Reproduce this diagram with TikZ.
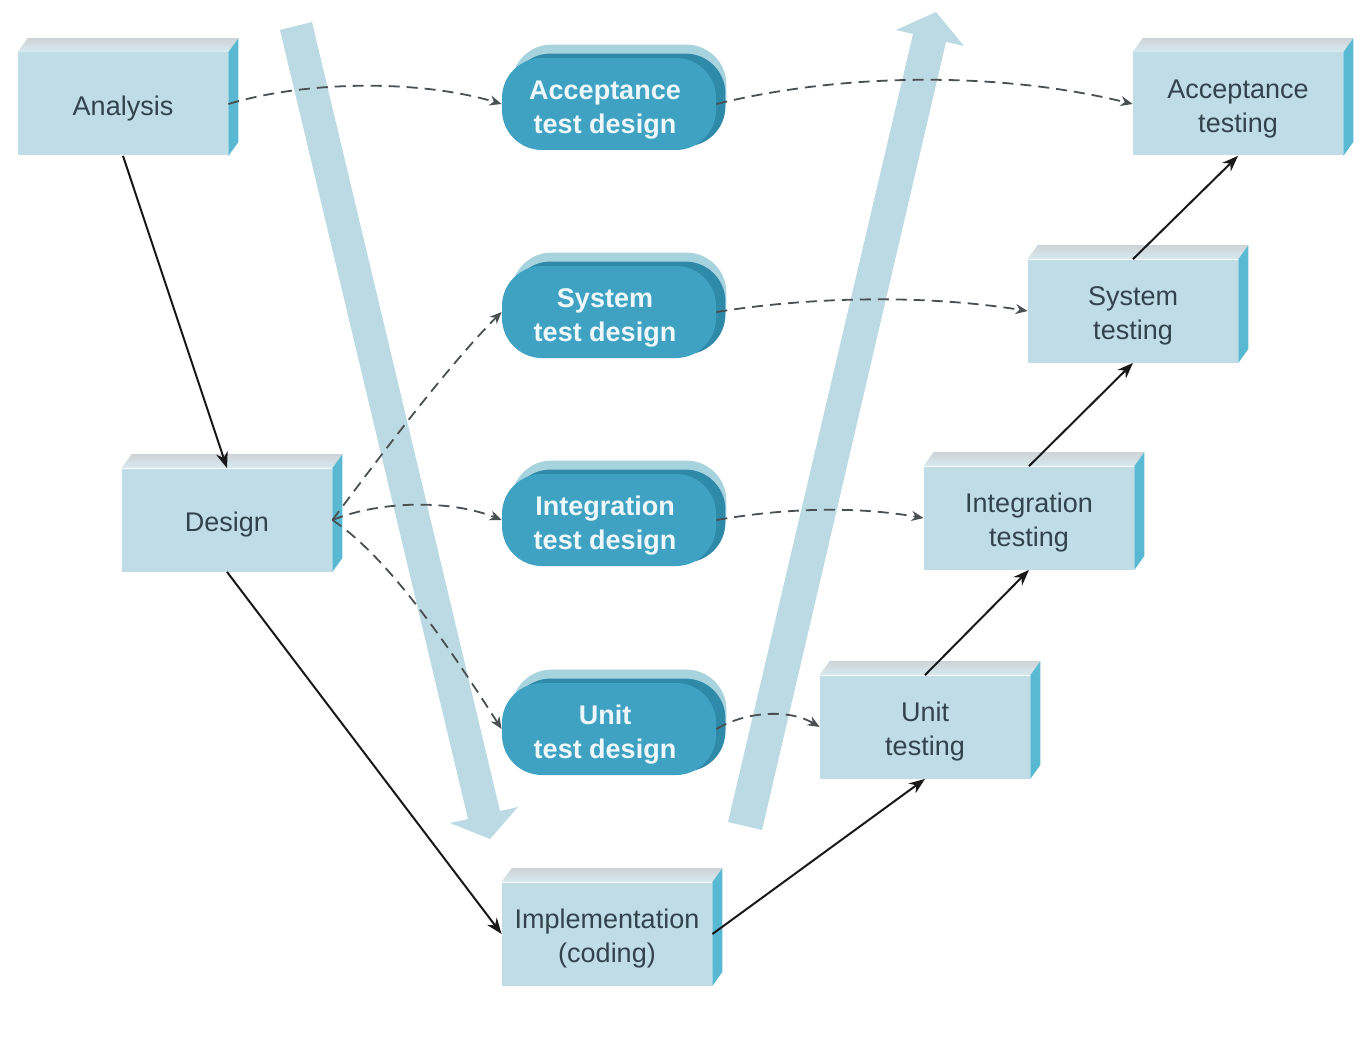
\documentclass[tikz,border=0pt]{standalone}
\usepackage{fontspec}
\setmainfont{Liberation Sans}
\usetikzlibrary{arrows.meta,calc,backgrounds}
\definecolor{boxfront}{HTML}{C0DCE6}
\definecolor{boxside}{HTML}{5AB9D2}
\definecolor{boxtop}{HTML}{D6EAF0}
\definecolor{boxshadow}{HTML}{CFD3D6}
\definecolor{boxtext}{HTML}{33434D}
\definecolor{pillfront}{HTML}{40A2C2}
\definecolor{pillside}{HTML}{2F8AAA}
\definecolor{pilltop}{HTML}{A7D3DF}
\definecolor{pilltext}{HTML}{EEF8FB}
\definecolor{arrowblue}{HTML}{BCDAE4}
\definecolor{dashgray}{HTML}{4A4F52}
\newcommand\boxthreed[1]{%
  \shade[top color=boxshadow, bottom color=boxtop] (#1.north west) -- ($(#1.north west)+(10,-14)$) -- ($(#1.north east)+(10,-14)$) -- (#1.north east) -- cycle;
  \fill[boxside] (#1.north east) -- ($(#1.north east)+(10,-14)$) -- ($(#1.south east)+(10,-14)$) -- (#1.south east) -- cycle;
}
\newcommand\pillthreed[1]{%
  \fill[pilltop, rounded corners=20pt] ($(#1.south west)+(10,-13)$) rectangle ($(#1.north east)+(10,-13)$);
  \fill[pillside, rounded corners=20pt] ($(#1.south west)+(9,-4)$) rectangle ($(#1.north east)+(9,-4)$);
}
\begin{document}
\begin{tikzpicture}[x=0.5pt,y=-0.5pt,
  box/.style={rectangle, fill=boxfront, minimum width=105pt, minimum height=51.5pt, inner sep=0pt, align=center, text=boxtext, text height=14pt, font=\fontsize{13.5}{17}\selectfont},
  twoline/.style={text height=31.5pt},
  pill/.style={rectangle, rounded corners=20pt, fill=pillfront, minimum width=107pt, minimum height=46pt, inner sep=0pt, align=center, text=pilltext, text height=32.5pt, font=\bfseries\fontsize{13.5}{17}\selectfont},
  flow/.style={-{Stealth[length=8pt,width=6pt]}, line width=1pt, draw=black!90},
  dashflow/.style={-{Stealth[length=6pt,width=5pt]}, dash pattern=on 5.5pt off 3.5pt, line width=0.9pt, draw=dashgray},
  bigarrow/.style={fill=arrowblue}]
\useasboundingbox (0,0) rectangle (1368,1048);
% boxes
\node[box] (ana) at (123,104) {Analysis};
\node[box] (des) at (227,520) {Design};
\node[box,twoline] (imp) at (607,934) {Implementation\\(coding)};
\node[box,twoline] (unit) at (925,727) {Unit\\testing};
\node[box,twoline] (integ) at (1029,518) {Integration\\testing};
\node[box,twoline] (sys) at (1133,311) {System\\testing};
\node[box,twoline] (acc) at (1238,104) {Acceptance\\testing};
% pills
\node[pill] (atd) at (609,104) {\hspace*{-4pt}Acceptance\\\hspace*{-4pt}test design};
\node[pill] (std) at (609,312) {\hspace*{-4pt}System\\\hspace*{-4pt}test design};
\node[pill] (itd) at (609,520) {\hspace*{-4pt}Integration\\\hspace*{-4pt}test design};
\node[pill] (utd) at (609,729) {\hspace*{-4pt}Unit\\\hspace*{-4pt}test design};
\begin{scope}[on background layer]
  \fill[bigarrow] (280,30) -- (312,22) -- (500,811) -- (518,807) -- (490,839) -- (450,823) -- (468,819) -- cycle;
  \fill[bigarrow] (728,822) -- (762,830) -- (946,42) -- (964,46) -- (936,12) -- (896,30) -- (913,34) -- cycle;
  \foreach \n in {ana,des,imp,unit,integ,sys,acc} {\boxthreed{\n}}
  \foreach \n in {atd,std,itd,utd} {\pillthreed{\n}}
\end{scope}
% solid flow
\draw[flow] (ana.south) -- (des.north);
\draw[flow] (des.south) -- (imp.west);
\draw[flow] (imp.east) -- (unit.south);
\draw[flow] (unit.north) -- (integ.south);
\draw[flow] (integ.north) -- (sys.south);
\draw[flow] (sys.north) -- (acc.south);
% dashed
\draw[dashflow] (ana.east) .. controls +(80,-24) and +(-80,-24) .. (atd.west);
\draw[dashflow] (atd.east) .. controls +(130,-32) and +(-130,-32) .. (acc.west);
\draw[dashflow] (des.east) .. controls +(45,-60) and +(-55,55) .. (std.west);
\draw[dashflow] (des.east) .. controls +(50,-20) and +(-50,-20) .. (itd.west);
\draw[dashflow] (des.east) .. controls +(60,40) and +(-45,-70) .. (utd.west);
\draw[dashflow] (std.east) .. controls +(100,-16) and +(-100,-16) .. (sys.west);
\draw[dashflow] (itd.east) .. controls +(70,-12) and +(-70,-12) .. (integ.west);
\draw[dashflow] (utd.east) .. controls +(30,-18) and +(-30,-18) .. (unit.west);
\end{tikzpicture}
\end{document}
